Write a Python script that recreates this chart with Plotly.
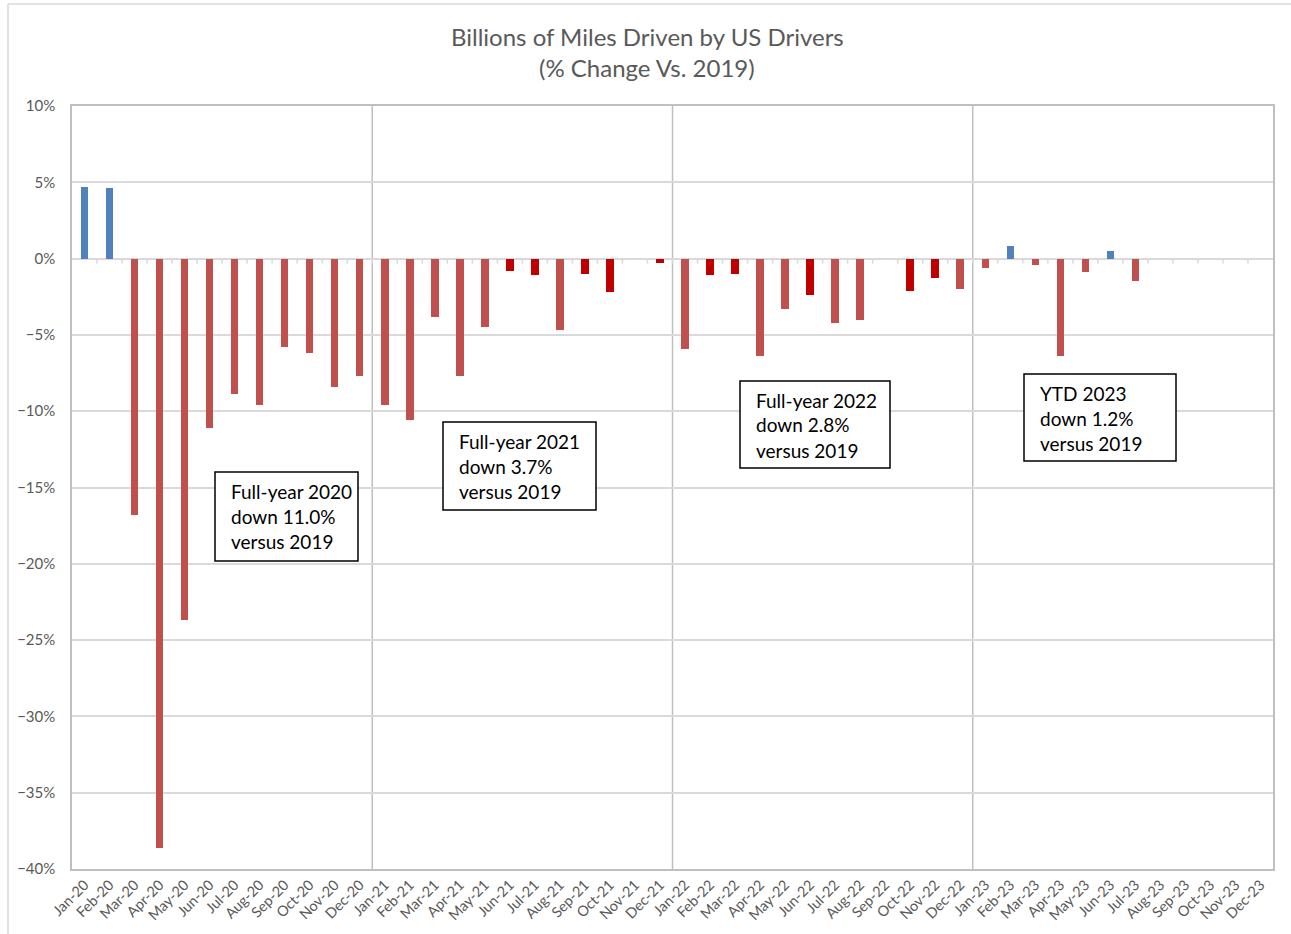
import plotly.graph_objects as go

months = ["Jan", "Feb", "Mar", "Apr", "May", "Jun", "Jul", "Aug", "Sep", "Oct", "Nov", "Dec"]
years = ["20", "21", "22", "23"]
categories = [f"{m}-{y}" for y in years for m in months]

pct_change = [
    4.7, 4.6, -16.8, -38.6, -23.7, -11.1, -8.9, -9.6, -5.8, -6.2, -8.4, -7.7,
    -9.6, -10.6, -3.8, -7.7, -4.5, -0.8, -1.1, -4.7, -1.0, -2.2, 0.0, -0.3,
    -5.9, -1.1, -1.0, -6.4, -3.3, -2.4, -4.2, -4.0, 0.0, -2.1, -1.3, -2.0,
    -0.6, 0.8, -0.4, -6.4, -0.9, 0.5, -1.5, None, None, None, None, None,
]

highlighted = ["Jun-21", "Jul-21", "Sep-21", "Oct-21", "Dec-21",
               "Feb-22", "Mar-22", "Jun-22", "Oct-22", "Nov-22"]

notes = [
    ["Full-year 2020", "down 11.0%", "versus 2019"],
    ["Full-year 2021", "down 3.7%", "versus 2019"],
    ["Full-year 2022", "down 2.8%", "versus 2019"],
    ["YTD 2023", "down 1.2%", "versus 2019"],
]

BLUE = "#4F81BD"
RED = "#C0504D"
DARK_RED = "#C00000"
GREY_TXT = "#595959"
FONT = "Lato"

colors = []
for c, v in zip(categories, pct_change):
    if v is not None and v > 0:
        colors.append(BLUE)
    elif c in highlighted:
        colors.append(DARK_RED)
    else:
        colors.append(RED)

fig = go.Figure()
fig.add_trace(go.Bar(
    x=categories, y=pct_change, marker=dict(color=colors, line=dict(width=0)),
    width=0.3, hoverinfo="x+y",
))

W, H = 1291, 934
L, R, T, B = 72, 18, 106, 65
pw, ph = W - L - R, H - T - B


def px_x(p):
    return (p - L) / pw


def px_y(p):
    return (H - B - p) / ph


shapes = []
# year separators
for i in range(12, len(categories), 12):
    shapes.append(dict(type="line", xref="x", yref="paper", x0=i - 0.5, x1=i - 0.5,
                       y0=0, y1=1, line=dict(color="#BFBFBF", width=1.5), layer="below"))
# small tick marks under zero line
for i in range(1, len(categories)):
    shapes.append(dict(type="line", xref="x", yref="y", ysizemode="pixel", yanchor=0,
                       x0=i - 0.5, x1=i - 0.5, y0=0, y1=-5,
                       line=dict(color="#D9D9D9", width=1.5), layer="below"))
# outer chart border (top and left edges visible)
shapes.append(dict(type="line", xref="paper", yref="paper",
                   x0=px_x(8), x1=px_x(1291), y0=px_y(4), y1=px_y(4),
                   line=dict(color="#D9D9D9", width=1.5)))
shapes.append(dict(type="line", xref="paper", yref="paper",
                   x0=px_x(8), x1=px_x(8), y0=px_y(4), y1=px_y(934),
                   line=dict(color="#D9D9D9", width=1.5)))

# annotation boxes (left, top, right, bottom in px)
boxes = [(215, 472, 358, 561), (443, 422, 596, 510), (740, 381, 890, 468), (1024, 374, 1176, 461)]
annotations = []
for (x0, y0, x1, y1), lines in zip(boxes, notes):
    shapes.append(dict(type="rect", xref="paper", yref="paper",
                       x0=px_x(x0), x1=px_x(x1), y0=px_y(y1), y1=px_y(y0),
                       line=dict(color="black", width=1.5), fillcolor="white", layer="above"))
    for k, line in enumerate(lines):
        annotations.append(dict(text=line, xref="paper", yref="paper",
                                x=px_x(x0 + 14), y=px_y(y0 + 19 + 25 * k),
                                xanchor="left", yanchor="middle", showarrow=False,
                                font=dict(family=FONT, size=19, color="black")))

# title
for txt, ypx in [("Billions of Miles Driven by US Drivers", 36), ("(% Change Vs. 2019)", 68)]:
    annotations.append(dict(text=txt, xref="paper", yref="paper", x=px_x(647), y=px_y(ypx),
                            xanchor="center", yanchor="middle", showarrow=False,
                            font=dict(family=FONT, size=24, color=GREY_TXT)))

fig.update_layout(
    width=W, height=H,
    margin=dict(l=L, r=R, t=T, b=B),
    paper_bgcolor="white", plot_bgcolor="white",
    showlegend=False,
    bargap=0,
    shapes=shapes,
    annotations=annotations,
    font=dict(family=FONT, color=GREY_TXT),
)
fig.update_xaxes(
    type="category", range=[-0.5, len(categories) - 0.5],
    tickangle=-45, tickfont=dict(size=14.5, color=GREY_TXT, family=FONT),
    showline=True, linecolor="#BFBFBF", linewidth=1.5, mirror=True,
    showgrid=False, ticks="", automargin=False,
)
fig.update_yaxes(
    range=[-40, 10], dtick=5, ticksuffix="%",
    tickfont=dict(size=15, color=GREY_TXT, family=FONT),
    showgrid=True, gridcolor="#D9D9D9", gridwidth=1.5,
    zeroline=True, zerolinecolor="#D9D9D9", zerolinewidth=2,
    showline=True, linecolor="#BFBFBF", linewidth=1.5, mirror=True,
    ticks="", ticklabelstandoff=12, automargin=False,
)

fig.write_html("out.html")
